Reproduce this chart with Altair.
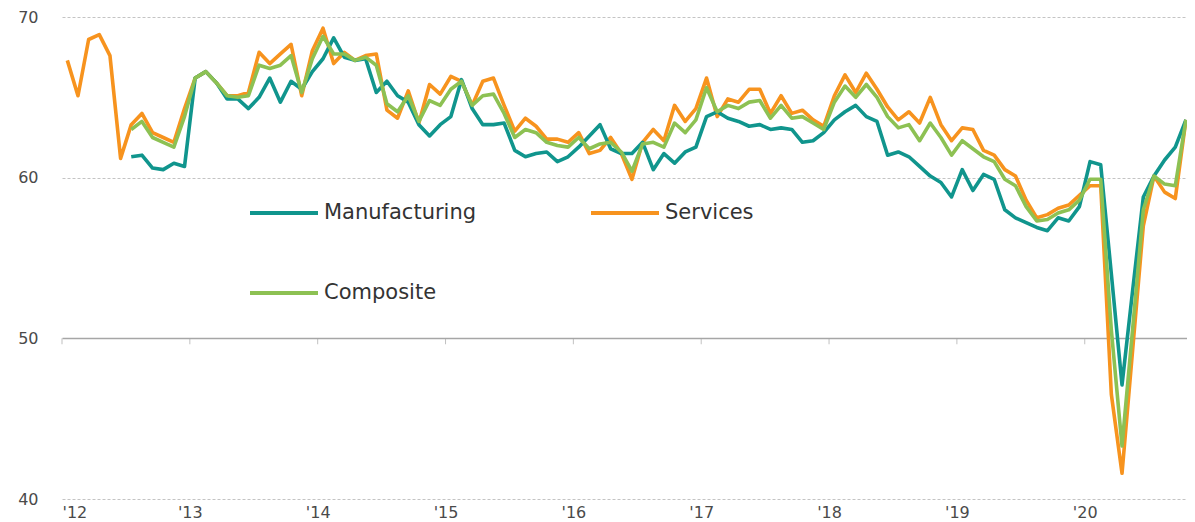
import altair as alt
import pandas as pd

# Monthly index values, Jan 2012 .. Oct 2020 (106 months)
services = [67.3, 65.1, 68.6, 68.9, 67.6, 61.2, 63.3, 64.0, 62.8, 62.5, 62.2, 64.3,
            66.2, 66.6, 65.9, 65.1, 65.1, 65.3, 67.8, 67.1, 67.7, 68.3, 65.1, 67.9,
            69.3, 67.1, 67.8, 67.3, 67.6, 67.7, 64.2, 63.7, 65.4, 63.4, 65.8, 65.2,
            66.3, 66.0, 64.5, 66.0, 66.2, 64.5, 62.9, 63.7, 63.2, 62.4, 62.4, 62.2,
            62.8, 61.5, 61.7, 62.5, 61.5, 59.9, 62.2, 63.0, 62.3, 64.5, 63.5, 64.3,
            66.2, 63.8, 64.9, 64.7, 65.5, 65.5, 64.0, 65.1, 64.0, 64.2, 63.6, 63.2,
            65.1, 66.4, 65.3, 66.5, 65.5, 64.4, 63.6, 64.1, 63.4, 65.0, 63.3, 62.3,
            63.1, 63.0, 61.7, 61.4, 60.5, 60.1, 58.6, 57.5, 57.7, 58.1, 58.3, 58.9,
            59.5, 59.5, 46.5, 41.6, 49.3, 57.0, 60.1, 59.1, 58.7, 63.6]

manufacturing = [None] * 6 + [
            61.3, 61.4, 60.6, 60.5, 60.9, 60.7,
            66.2, 66.6, 65.9, 64.9, 64.9, 64.3, 65.0, 66.2, 64.7, 66.0, 65.5, 66.6,
            67.4, 68.7, 67.5, 67.3, 67.4, 65.3, 66.0, 65.1, 64.7, 63.3, 62.6, 63.3,
            63.8, 66.1, 64.3, 63.3, 63.3, 63.4, 61.7, 61.3, 61.5, 61.6, 61.0, 61.3,
            61.9, 62.6, 63.3, 61.8, 61.5, 61.5, 62.2, 60.5, 61.5, 60.9, 61.6, 61.9,
            63.8, 64.1, 63.7, 63.5, 63.2, 63.3, 63.0, 63.1, 63.0, 62.2, 62.3, 62.8,
            63.6, 64.1, 64.5, 63.8, 63.5, 61.4, 61.6, 61.3, 60.7, 60.1, 59.7, 58.8,
            60.5, 59.2, 60.2, 59.9, 58.0, 57.5, 57.2, 56.9, 56.7, 57.5, 57.3, 58.2,
            61.0, 60.8, 54.0, 47.1, 53.0, 58.8, 60.1, 61.1, 61.9, 63.6]

composite = [None] * 6 + [
            63.0, 63.5, 62.5, 62.2, 61.9, 63.8,
            66.2, 66.6, 65.9, 65.1, 65.0, 65.1, 67.0, 66.8, 67.0, 67.6, 65.3, 67.4,
            68.8, 67.7, 67.7, 67.3, 67.5, 67.0, 64.6, 64.1, 65.1, 63.5, 64.8, 64.5,
            65.5, 66.0, 64.5, 65.1, 65.2, 64.0, 62.5, 63.0, 62.8, 62.2, 62.0, 61.9,
            62.5, 61.8, 62.1, 62.2, 61.6, 60.4, 62.1, 62.2, 61.9, 63.4, 62.8, 63.6,
            65.6, 64.1, 64.5, 64.3, 64.7, 64.8, 63.7, 64.5, 63.7, 63.8, 63.4, 63.0,
            64.7, 65.7, 65.0, 65.8, 65.0, 63.8, 63.1, 63.3, 62.3, 63.4, 62.5, 61.4,
            62.3, 61.8, 61.3, 61.0, 59.9, 59.5, 58.2, 57.3, 57.4, 57.8, 58.0, 58.6,
            59.9, 59.9, 50.5, 43.3, 50.6, 58.0, 60.1, 59.6, 59.5, 63.6]

series_names = ["Manufacturing", "Services", "Composite"]
series_colors = ["#10958d", "#f7931e", "#8dc153"]
year_ticks = [2012, 2013, 2014, 2015, 2016, 2017, 2018, 2019, 2020]
y_ticks = [40, 50, 60, 70]

rows = []
for name, vals in zip(series_names, [manufacturing, services, composite]):
    for m, v in enumerate(vals):
        if v is not None:
            rows.append({"x": 2012 + (m + 0.5) / 12.0, "value": v, "series": name})
df = pd.DataFrame(rows)
ticks_df = pd.DataFrame({"x": year_ticks})

font = "DejaVu Sans"

x_enc = alt.X(
    "x:Q",
    scale=alt.Scale(domain=[2012, 2020.8], nice=False, zero=False),
    axis=alt.Axis(
        values=year_ticks,
        labelExpr="\"'\" + substring(format(datum.value, 'd'), 2, 4)",
        ticks=False,
        domain=False,
        grid=False,
        labelPadding=5,
        labelFontSize=16,
        labelColor="#4a4a4a",
        labelFont=font,
        title=None,
    ),
)
y_enc = alt.Y(
    "value:Q",
    scale=alt.Scale(domain=[40, 70], nice=False, zero=False),
    axis=alt.Axis(
        values=y_ticks,
        ticks=False,
        domain=False,
        grid=True,
        gridColor={"condition": {"test": "datum.value === 50", "value": "#a6a6a6"}, "value": "#c4c4c4"},
        gridDash={"condition": {"test": "datum.value === 50", "value": []}, "value": [3, 2]},
        gridWidth={"condition": {"test": "datum.value === 50", "value": 1.5}, "value": 1},
        labelPadding=24,
        labelFontSize=16,
        labelColor="#4a4a4a",
        labelFont=font,
        title=None,
    ),
)
color_enc = alt.Color(
    "series:N",
    scale=alt.Scale(domain=series_names, range=series_colors),
    legend=alt.Legend(
        title=None,
        orient="none",
        direction="horizontal",
        legendX=186,
        legendY=160,
        columns=2,
        columnPadding=106,
        rowPadding=34,
        symbolType="stroke",
        symbolSize=4624,
        symbolStrokeWidth=4,
        labelFontSize=21,
        labelFont=font,
        labelColor="#333333",
        labelOffset=4,
    ),
)

base = alt.Chart(df).mark_line(strokeWidth=3.6, strokeJoin="round").encode(
    x=x_enc, y=y_enc, color=color_enc
)

axis_ticks = alt.Chart(ticks_df).mark_tick(
    orient="vertical", size=6, thickness=1, color="#a6a6a6", yOffset=3
).encode(x=alt.X("x:Q"), y=alt.datum(50))

chart = alt.layer(
    axis_ticks,
    base.transform_filter("datum.series === 'Services'"),
    base.transform_filter("datum.series === 'Manufacturing'"),
    base.transform_filter("datum.series === 'Composite'"),
).properties(
    width=1125,
    height=482,
    autosize=alt.AutoSizeParams(type="none"),
    padding={"left": 54, "top": 9, "right": 0, "bottom": 22},
).configure_view(stroke=None)

chart.save("out.html", embed_options={"renderer": "svg", "actions": False})
